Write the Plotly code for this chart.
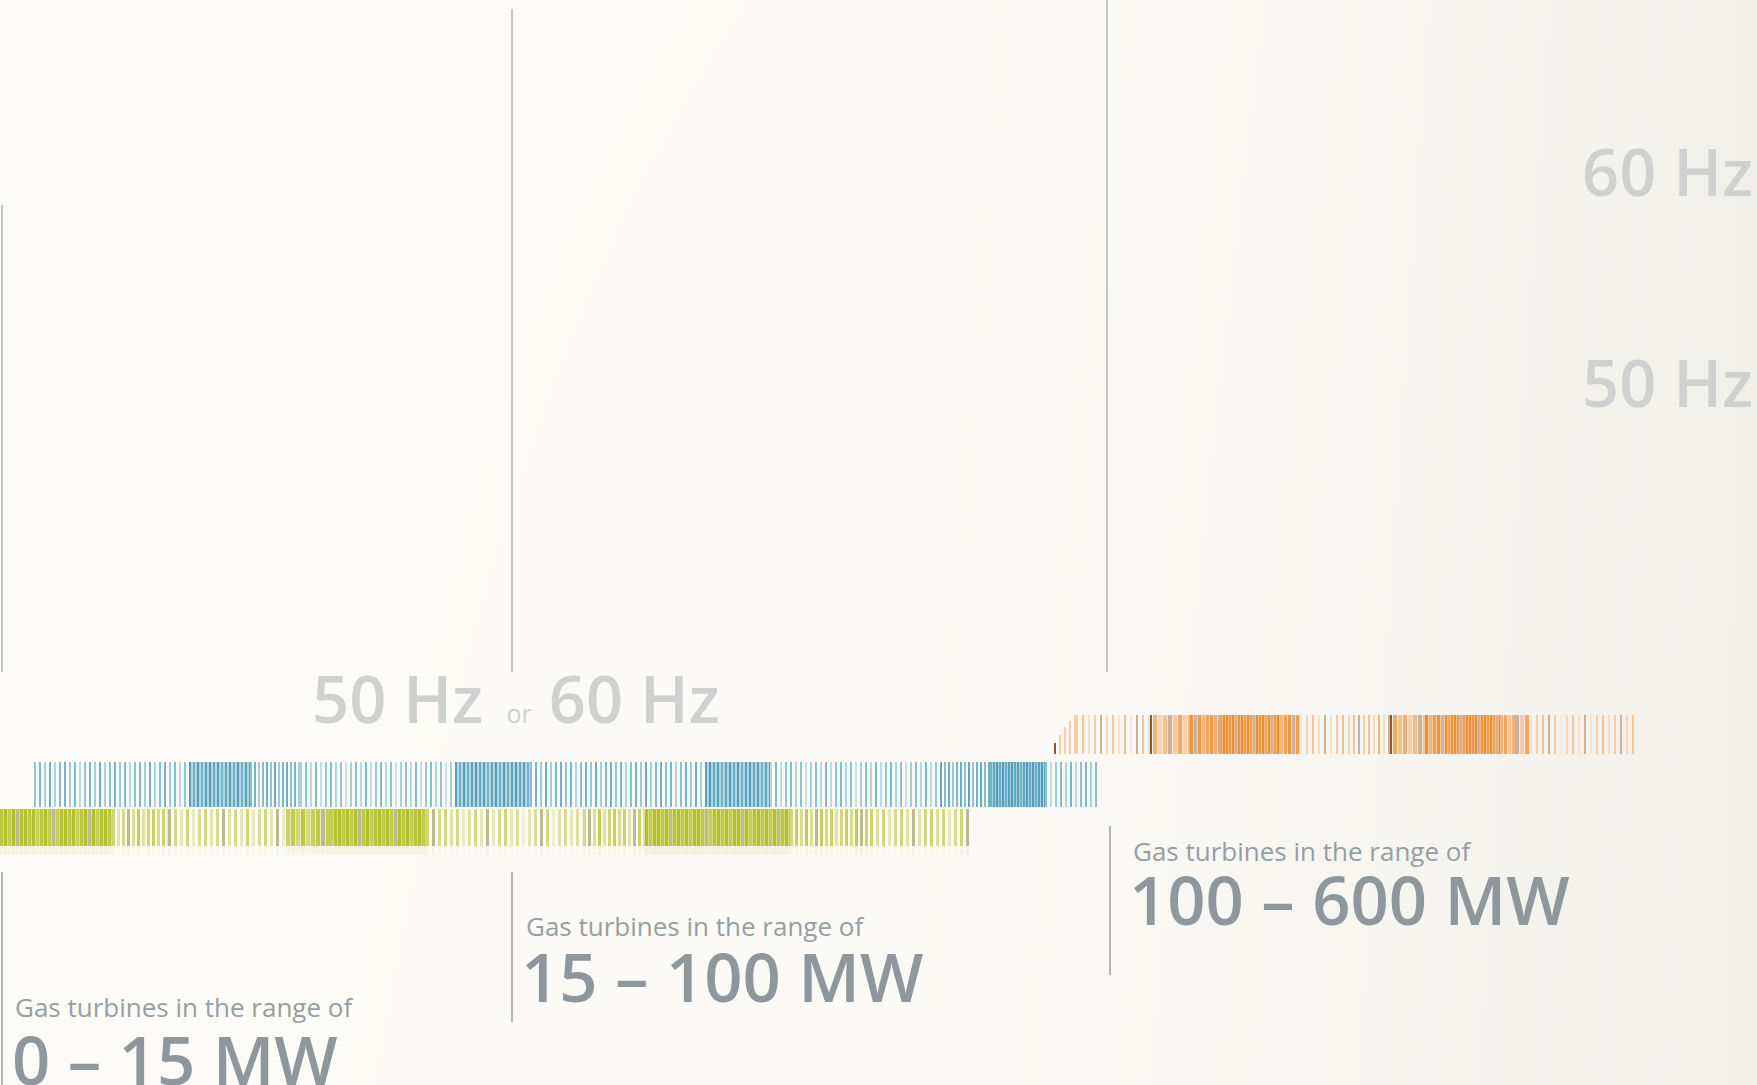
import numpy as np
import plotly.graph_objects as go

W, H = 1757, 1085

# ---------------- text content ----------------
range_labels = ["0 – 15 MW", "15 – 100 MW", "100 – 600 MW"]
range_caption = "Gas turbines in the range of"
freq_right = ["60 Hz", "50 Hz"]
freq_center = ["50 Hz", "or", "60 Hz"]

# ---------------- bar intensity profiles ----------------
# segment edges along the horizontal axis, and stripe intensity per segment (>1 = dark accent stripe)
green_edges = [0, 112, 168, 286, 330, 426, 510, 583, 645, 790, 870, 972]
green_level = [0.85, 0.45, 0.28, 0.6, 0.9, 0.3, 0.2, 0.45, 0.9, 0.5, 0.38]

blue_edges = [34, 189, 250, 300, 455, 530, 705, 770, 940, 990, 1045, 1098]
blue_level = [0.4, 0.8, 0.5, 0.28, 0.8, 0.45, 0.82, 0.3, 0.55, 0.85, 0.35]

orange_edges = [1054, 1076, 1150, 1153, 1190, 1220, 1280, 1300, 1348, 1390, 1393,
                1425, 1445, 1500, 1515, 1530, 1635]
orange_level = [0.3, 0.2, 1.25, 0.45, 0.75, 0.95, 0.7, 0.25, 0.3, 1.2,
                0.5, 0.75, 0.95, 0.6, 0.45, 0.22]
orange_ramp = [0.3, 0.5, 0.7, 0.85, 1.0]   # height fraction of the first stripes

# ---------------- layout / style constants ----------------
BAR_ROWS = {"orange": (715, 754), "blue": (762, 807), "green": (809, 846)}
SHADE_CYCLE = [0.0, 0.15, -0.1, 0.25, -0.15, 0.08, 0.2, -0.05, 0.12, -0.2]
ZMAX = 1.25
ACCENT = 1.05

STYLE = {  # pitch at light / dense level, stripe widths, fill-from level, fill offset, accent spacing
    "green": dict(pmax=7.0, pmin=3.5, wlight=3, wdense=None, fill_from=0.6, fill_off=0.45, accent_every=9),
    "blue": dict(pmax=6.0, pmin=3.0, wlight=2, wdense=2, fill_from=0.75, fill_off=0.6, accent_every=0),
    "orange": dict(pmax=6.5, pmin=3.0, wlight=2, wdense=None, fill_from=0.45, fill_off=0.45, accent_every=6),
}

green_cs = [[0, "#f0f0d8"], [0.16, "#e4e7b4"], [0.32, "#d6dc8c"], [0.56, "#c6ce55"],
            [0.8, "#b3c02a"], [0.81, "#c4c39e"], [0.9, "#aaa878"], [1, "#8b8a55"]]
blue_cs = [[0, "#d4e9ef"], [0.16, "#b3d8e3"], [0.32, "#8fc5d5"], [0.56, "#6aaec7"],
           [0.8, "#539bb9"], [0.81, "#4a93b2"], [1, "#2f7d9e"]]
orange_cs = [[0, "#f9eadb"], [0.16, "#f6d8ba"], [0.32, "#f4c599"], [0.56, "#f1a962"],
             [0.8, "#ec8f33"], [0.81, "#d3c0ac"], [0.9, "#b99a7c"], [1, "#8c5a30"]]


def stripes(edges, levels, pmax, pmin, wlight, wdense, fill_from, fill_off, accent_every):
    x0, x1 = edges[0], edges[-1]
    z = np.full(x1 - x0, np.nan)
    starts = []
    k = 0
    for a, b, v in zip(edges[:-1], edges[1:], levels):
        if v > 1.0:
            z[a - x0:a - x0 + 2] = ZMAX
            starts.append((a, 2))
            continue
        p = max(2, int(round(pmax - (pmax - pmin) * v)))
        dense = v >= fill_from
        if dense:
            w = wdense if wdense else max(1, p - 1)
            z[a - x0:b - x0] = max(v - fill_off, 0.05)
        else:
            w = wlight
        x = a
        while x < b:
            val = min(max(v + SHADE_CYCLE[k % len(SHADE_CYCLE)], 0.0), 1.0)
            if accent_every and k % accent_every == accent_every // 2:
                val = ACCENT
            z[x - x0:min(x + w, b) - x0] = val
            starts.append((x, w))
            x += p
            k += 1
    return z, starts


fig = go.Figure()

# background tint
fig.add_trace(go.Heatmap(
    x=[0, 900, 1350, 1600, W], y=[0, H],
    z=[[0, 0.05, 0.35, 0.7, 1], [0, 0.1, 0.45, 0.8, 1]],
    zsmooth="best", colorscale=[[0, "#fcfbf7"], [1, "#f1efea"]],
    showscale=False, hoverinfo="skip"))

# green bar (+ faint reflection)
gz, _ = stripes(green_edges, green_level, **STYLE["green"])
gx = np.arange(green_edges[0], green_edges[-1] + 1)
t, b = BAR_ROWS["green"]
fig.add_trace(go.Heatmap(x=gx, y=[t, b], z=[gz], zmin=0, zmax=ZMAX, colorscale=green_cs,
                         showscale=False, hoverinfo="skip"))
fig.add_trace(go.Heatmap(x=gx, y=[b, b + 9], z=[gz], zmin=0, zmax=ZMAX, colorscale=green_cs,
                         showscale=False, hoverinfo="skip", opacity=0.12))

# blue bar
bz, _ = stripes(blue_edges, blue_level, **STYLE["blue"])
bx = np.arange(blue_edges[0], blue_edges[-1] + 1)
t, b = BAR_ROWS["blue"]
fig.add_trace(go.Heatmap(x=bx, y=[t, b], z=[bz], zmin=0, zmax=ZMAX, colorscale=blue_cs,
                         showscale=False, hoverinfo="skip"))

# orange bar, with rising ramp at its start
oz, ostarts = stripes(orange_edges, orange_level, **STYLE["orange"])
ox = np.arange(orange_edges[0], orange_edges[-1] + 1)
t, b = BAR_ROWS["orange"]
rows = np.arange(t, b + 1)
oz2 = np.tile(oz, (len(rows) - 1, 1))
for i, frac in enumerate(orange_ramp):
    sx, sw = ostarts[i]
    c0, c1 = sx - orange_edges[0], sx - orange_edges[0] + sw
    top = b - frac * (b - t)
    for r in range(len(rows) - 1):
        oz2[r, c0:c1] = np.nan if rows[r] < top else (ZMAX if i == 0 else 0.3)
fig.add_trace(go.Heatmap(x=ox, y=rows, z=oz2, zmin=0, zmax=ZMAX, colorscale=orange_cs,
                         showscale=False, hoverinfo="skip"))

# divider lines
dividers_top = [(2, 205), (512, 9), (1107, 0)]
dividers_bottom = [(2, 872, H), (512, 872, 1022), (1110, 826, 975)]
shapes = []
for x, y0 in dividers_top:
    shapes.append(dict(type="line", xref="x", yref="y", x0=x, x1=x, y0=y0, y1=672,
                       line=dict(color="#8d9298", width=1)))
for x, y0, y1 in dividers_bottom:
    shapes.append(dict(type="line", xref="x", yref="y", x0=x, x1=x, y0=y0, y1=y1,
                       line=dict(color="#6f7378", width=1)))

HZ_COLOR = "#cfd1d1"
BIG_COLOR = "#8f979c"
SMALL_COLOR = "#979ea2"
FAM = "Open Sans"

ann = []
# right-side frequency labels
for txt, ymid in zip(freq_right, [171, 382]):
    ann.append(dict(text=txt, x=1755, y=ymid, xanchor="right", yanchor="middle",
                    font=dict(family=FAM, size=65, color=HZ_COLOR, weight=600)))
# center "50 Hz or 60 Hz"
ann.append(dict(text=(f"{freq_center[0]} <span style='font-size:25px;font-weight:400'>&nbsp;"
                      f"{freq_center[1]}</span> {freq_center[2]}"),
                x=310, y=698, xanchor="left", yanchor="middle",
                font=dict(family=FAM, size=65, color=HZ_COLOR, weight=600)))

caption_pos = [(13, 1007), (524, 926), (1131, 851)]
label_pos = [(10, 1059), (519, 976), (1127, 899)]
for (cx, cy), (lx, ly), lab in zip(caption_pos, label_pos, range_labels):
    ann.append(dict(text=range_caption, x=cx, y=cy, xanchor="left", yanchor="middle",
                    font=dict(family=FAM, size=26, color=SMALL_COLOR)))
    ann.append(dict(text=lab, x=lx, y=ly, xanchor="left", yanchor="middle",
                    font=dict(family=FAM, size=67, color=BIG_COLOR, weight=600)))
for a in ann:
    a.update(xref="x", yref="y", showarrow=False)

fig.update_layout(
    width=W, height=H, margin=dict(l=0, r=0, t=0, b=0, pad=0),
    paper_bgcolor="#fcfbf7", plot_bgcolor="rgba(0,0,0,0)",
    xaxis=dict(range=[0, W], visible=False, fixedrange=True),
    yaxis=dict(range=[H, 0], visible=False, fixedrange=True),
    shapes=shapes, annotations=ann, showlegend=False,
)

fig.write_html("out.html", config={"displayModeBar": False, "staticPlot": True},
               post_script="document.body.style.margin='0';document.body.style.overflow='hidden';")
